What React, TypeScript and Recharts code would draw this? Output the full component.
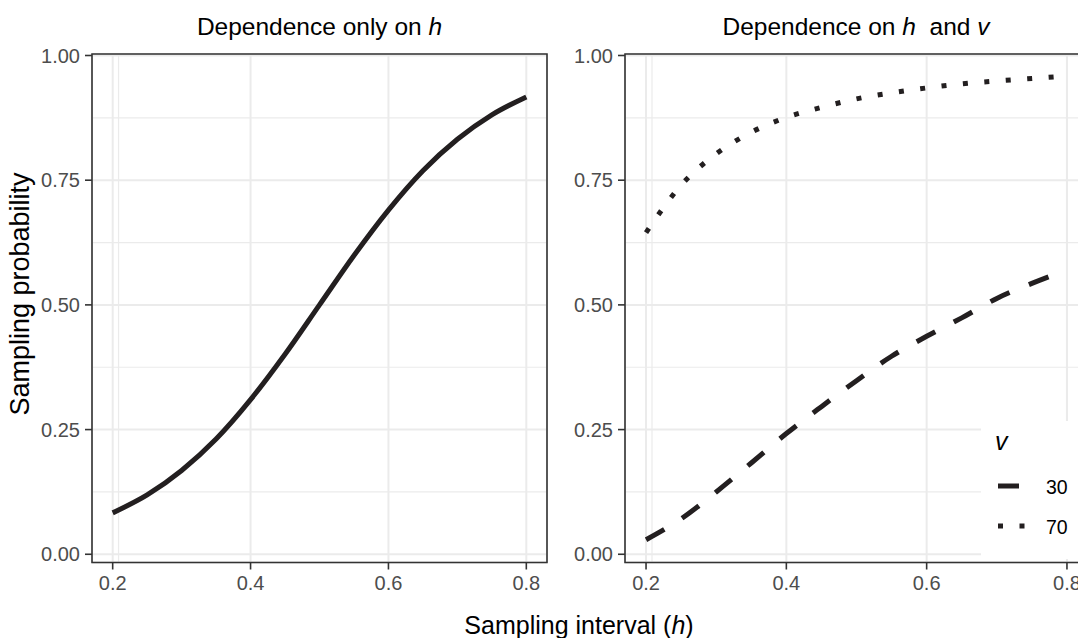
import React from "react";
import {
  LineChart,
  Line,
  XAxis,
  YAxis,
  CartesianGrid,
  ReferenceArea,
} from "recharts";

// sampling interval h, read every 0.05
const hValues = [0.2, 0.25, 0.3, 0.35, 0.4, 0.45, 0.5, 0.55, 0.6, 0.65, 0.7, 0.75, 0.8];
// left panel: probability depends only on h
const probOnlyH = [0.083, 0.119, 0.168, 0.231, 0.31, 0.401, 0.5, 0.599, 0.69, 0.769, 0.832, 0.881, 0.917];
// right panel: v = 30 (dashed) and v = 70 (dotted)
const prob30 = [0.029, 0.071, 0.125, 0.183, 0.242, 0.296, 0.348, 0.397, 0.437, 0.474, 0.513, 0.543, 0.57];
const prob70 = [0.645, 0.74, 0.803, 0.846, 0.876, 0.896, 0.913, 0.925, 0.935, 0.943, 0.949, 0.954, 0.959];

const xTicks = [0.2, 0.4, 0.6, 0.8];
const xMinorTicks = [0.3, 0.5, 0.7];
const yTicks = [0, 0.25, 0.5, 0.75, 1];
const yMinorTicks = [0.125, 0.375, 0.625, 0.875];
const legendLevels = ["30", "70"];

const X_DOMAIN: [number, number] = [0.17, 0.83];
const Y_DOMAIN: [number, number] = [-0.0165, 1.003];
const FONT = '"Liberation Sans", Arial, Helvetica, sans-serif';
const INK = "#231f20";
const GRID = "#ebebeb";
const FRAME = "#333333";
const DASH = "21 21";
const DOTS = "5 16.5";
const LW = 5;

const leftData = hValues.map((h, i) => ({ h, p: probOnlyH[i] }));
const rightData = hValues.map((h, i) => ({ h, v30: prob30[i], v70: prob70[i] }));

const tickStyle = { fontSize: 20, fill: "#4d4d4d", fontFamily: FONT };

function frame() {
  return [
    <XAxis
      key="xm"
      xAxisId="minor"
      type="number"
      domain={X_DOMAIN}
      ticks={xMinorTicks}
      allowDataOverflow
      hide
    />,
    <YAxis
      key="ym"
      yAxisId="minor"
      type="number"
      domain={Y_DOMAIN}
      ticks={yMinorTicks}
      allowDataOverflow
      hide
    />,
    <CartesianGrid key="gm" xAxisId="minor" yAxisId="minor" stroke={GRID} strokeWidth={1.2} />,
    <CartesianGrid key="g" stroke={GRID} strokeWidth={2} />,
    <XAxis
      key="x"
      dataKey="h"
      type="number"
      domain={X_DOMAIN}
      ticks={xTicks}
      allowDataOverflow
      interval={0}
      height={40}
      axisLine={false}
      tickLine={{ stroke: FRAME, strokeWidth: 1.6 }}
      tickSize={7}
      tickMargin={6}
      tick={tickStyle}
      tickFormatter={(v: number) => v.toFixed(1)}
    />,
    <YAxis
      key="y"
      type="number"
      domain={Y_DOMAIN}
      ticks={yTicks}
      allowDataOverflow
      interval={0}
      width={60}
      axisLine={false}
      tickLine={{ stroke: FRAME, strokeWidth: 1.6 }}
      tickSize={7}
      tickMargin={5}
      tick={tickStyle}
      tickFormatter={(v: number) => v.toFixed(2)}
    />,
  ];
}

function border() {
  return (
    <ReferenceArea
      x1={X_DOMAIN[0]}
      x2={X_DOMAIN[1]}
      y1={Y_DOMAIN[0]}
      y2={Y_DOMAIN[1]}
      fill="none"
      fillOpacity={0}
      stroke={FRAME}
      strokeWidth={1.6}
      ifOverflow="visible"
    />
  );
}

function Texts() {
  return (
    <svg
      width={1078}
      height={638}
      style={{ position: "absolute", left: 0, top: 0, pointerEvents: "none" }}
      fontFamily={FONT}
    >
      <text x={319.5} y={34.5} fontSize={24.5} textAnchor="middle" fill="#000">
        Dependence only on <tspan fontStyle="italic">h</tspan>
      </text>
      <text x={856} y={34.5} fontSize={24.5} textAnchor="middle" fill="#000">
        Dependence on <tspan fontStyle="italic">h</tspan>
        {"\u00a0 and "}
        <tspan fontStyle="italic">v</tspan>
      </text>
      <text x={579} y={634} fontSize={25} textAnchor="middle" fill="#000">
        Sampling interval (<tspan fontStyle="italic">h</tspan>)
      </text>
      <text
        x={0}
        y={0}
        fontSize={27}
        textAnchor="middle"
        fill="#000"
        transform="translate(29,294) rotate(-90)"
      >
        Sampling probability
      </text>
      <rect x={981} y={421} width={120} height={138} fill="#fff" />
      <text x={995} y={450} fontSize={25} fontStyle="italic" fill="#000">
        v
      </text>
      {legendLevels.map((lv, i) => (
        <g key={lv}>
          <line
            x1={998}
            x2={1025}
            y1={486 + i * 40}
            y2={486 + i * 40}
            stroke={INK}
            strokeWidth={LW}
            strokeDasharray={i === 0 ? DASH : DOTS}
          />
          <text x={1046} y={494 + i * 40} fontSize={19.5} fill="#000">
            {lv}
          </text>
        </g>
      ))}
    </svg>
  );
}

export default function App() {
  return (
    <div
      style={{
        position: "absolute",
        left: 0,
        top: 0,
        width: 1078,
        height: 638,
        overflow: "hidden",
        background: "#fff",
        fontFamily: FONT,
      }}
    >
      <div style={{ position: "absolute", left: 0, top: 0 }}>
        <LineChart
          width={560}
          height={638}
          data={leftData}
          margin={{ top: 54, right: 13, bottom: 35.5, left: 32 }}
        >
          {frame()}
          <Line
            dataKey="p"
            type="monotone"
            stroke={INK}
            strokeWidth={LW}
            dot={false}
            activeDot={false}
            isAnimationActive={false}
          />
          {border()}
        </LineChart>
      </div>
      <div style={{ position: "absolute", left: 540, top: 0 }}>
        <LineChart
          width={560}
          height={638}
          data={rightData}
          margin={{ top: 54, right: 12, bottom: 35.5, left: 25 }}
        >
          {frame()}
          <Line
            dataKey="v30"
            name="30"
            type="monotone"
            stroke={INK}
            strokeWidth={LW}
            strokeDasharray={DASH}
            dot={false}
            activeDot={false}
            isAnimationActive={false}
          />
          <Line
            dataKey="v70"
            name="70"
            type="monotone"
            stroke={INK}
            strokeWidth={LW}
            strokeDasharray={DOTS}
            dot={false}
            activeDot={false}
            isAnimationActive={false}
          />
          {border()}
        </LineChart>
      </div>
      <Texts />
    </div>
  );
}
